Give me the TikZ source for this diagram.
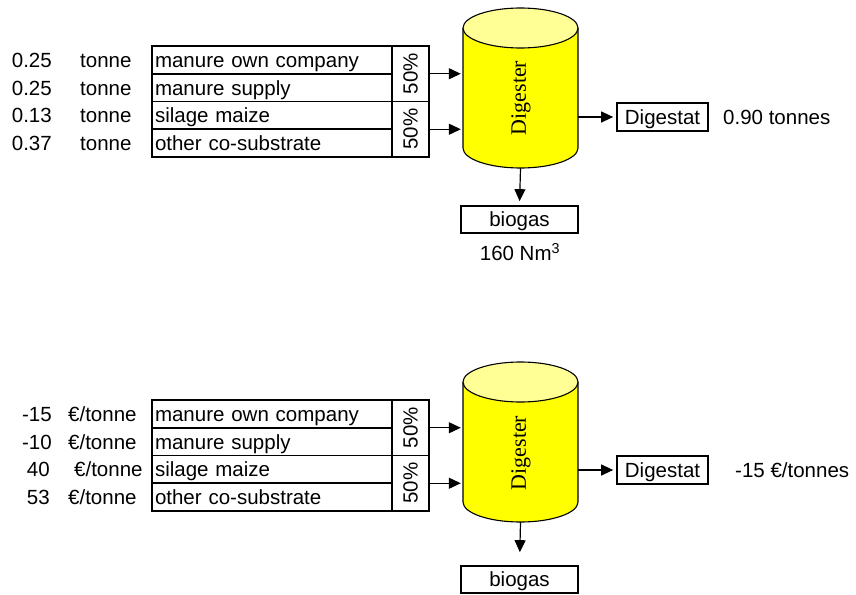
\documentclass[tikz,border=0pt]{standalone}
\usepackage{fontspec}
\usepackage{graphicx}
\setmainfont{Liberation Sans}
\newfontfamily\digfont{Liberation Serif}
\usetikzlibrary{arrows.meta}
\definecolor{tankbody}{RGB}{255,255,0}
\definecolor{tanktop}{RGB}{255,255,150}

\begin{document}
\begin{tikzpicture}[x=1pt,y=-1pt,
  every node/.style={font=\fontsize{20.5}{24}\selectfont, inner sep=0pt},
  frame/.style={draw, line width=1.7pt},
  cell/.style={frame, text width=234pt, inner xsep=3pt, align=left,
               minimum height=27.75pt, text height=14.8pt, text depth=0pt},
  pct/.style={frame, minimum width=37pt, minimum height=55.5pt},
  outbox/.style={frame, minimum height=28pt, text height=14.8pt, text depth=0pt},
  tank/.style={minimum width=115pt, minimum height=160pt},
  tankline/.style={line width=1.1pt},
  tanklabel/.style={font=\digfont\fontsize{22}{26}\selectfont},
  arr/.style={line width=1.2pt, -{Triangle[length=12pt,width=11pt]}},
]
\useasboundingbox (0,0) rectangle (856,594);

% ---------- quantities ----------
\begin{scope}[name prefix=q-]
  % input amounts
  \node[anchor=base east] (n1) at (52,67.3) {0.25};
  \node[anchor=base east] (n2) at (52,95.0) {0.25};
  \node[anchor=base east] (n3) at (52,122.8) {0.13};
  \node[anchor=base east] (n4) at (52,150.5) {0.37};
  \node[anchor=base west] (u1) at (80,67.3) {tonne};
  \node[anchor=base west] (u2) at (80,95.0) {tonne};
  \node[anchor=base west] (u3) at (80,122.8) {tonne};
  \node[anchor=base west] (u4) at (80,150.5) {tonne};
  % substrate table
  \node[cell] (c1) at (272,59.9) {manure own company};
  \node[cell] (c2) at (272,87.6) {manure supply};
  \node[cell] (c3) at (272,115.4) {silage maize};
  \node[cell] (c4) at (272,143.1) {other co-substrate};
  \node[pct] (p1) at (410.5,73.75) {\rotatebox{90}{50\%}};
  \node[pct] (p2) at (410.5,129.25) {\rotatebox{90}{50\%}};
  % digester tank
  \node[tank] (dig) at (520.5,88) {};
  \fill[tankbody] (463,28) rectangle (578,148);
  \fill[tankbody] (520.5,148) ellipse[x radius=57.5, y radius=20];
  \draw[tankline] (463,28) -- (463,148)
     arc[start angle=180, end angle=0, x radius=57.5, y radius=20] -- (578,28);
  \filldraw[tankline, fill=tanktop] (520.5,28) ellipse[x radius=57.5, y radius=20];
  \node[tanklabel] (dlab) at (521,98) {\rotatebox{90}{Digester}};
  % products
  \node[outbox, minimum width=91pt] (dg) at (662.5,117) {Digestat};
  \node[anchor=base west] (dgv) at (723,124.4) {0.90 tonnes};
  \node[outbox, minimum width=117pt, minimum height=27pt] (bg) at (519.5,219.5) {biogas};
  \node (bgv) at (520,252) {160 Nm\textsuperscript{3}};
  % flows
  \draw[arr, shorten >=2pt] (p1.east) -- (p1.east -| dig.west);
  \draw[arr, shorten >=2pt] (p2.east) -- (p2.east -| dig.west);
  \draw[arr, shorten >=3pt] (dig.east |- dg.west) -- (dg.west);
  \draw[arr, shorten >=4pt] (dig.south) -- (bg.north);
\end{scope}

% ---------- costs ----------
\begin{scope}[shift={(0,354)}, name prefix=k-]
  % input prices
  \node[anchor=base east] (n1) at (52,67.3) {-15};
  \node[anchor=base east] (n2) at (52,95.0) {-10};
  \node[anchor=base east] (n3) at (50,122.8) {40};
  \node[anchor=base east] (n4) at (50,150.5) {53};
  \node[anchor=base west] (u1) at (68,67.3) {€/tonne};
  \node[anchor=base west] (u2) at (68,95.0) {€/tonne};
  \node[anchor=base west] (u3) at (74,122.8) {€/tonne};
  \node[anchor=base west] (u4) at (68,150.5) {€/tonne};
  % substrate table
  \node[cell] (c1) at (272,59.9) {manure own company};
  \node[cell] (c2) at (272,87.6) {manure supply};
  \node[cell] (c3) at (272,115.4) {silage maize};
  \node[cell] (c4) at (272,143.1) {other co-substrate};
  \node[pct] (p1) at (410.5,73.75) {\rotatebox{90}{50\%}};
  \node[pct] (p2) at (410.5,129.25) {\rotatebox{90}{50\%}};
  % digester tank
  \node[tank] (dig) at (520.5,88) {};
  \fill[tankbody] (463,28) rectangle (578,148);
  \fill[tankbody] (520.5,148) ellipse[x radius=57.5, y radius=20];
  \draw[tankline] (463,28) -- (463,148)
     arc[start angle=180, end angle=0, x radius=57.5, y radius=20] -- (578,28);
  \filldraw[tankline, fill=tanktop] (520.5,28) ellipse[x radius=57.5, y radius=20];
  \node[tanklabel] (dlab) at (521,99) {\rotatebox{90}{Digester}};
  % products
  \node[outbox, minimum width=91pt] (dg) at (662.5,116) {Digestat};
  \node[anchor=base west] (dgv) at (735,123.4) {-15 €/tonnes};
  \node[outbox, minimum width=117pt, minimum height=27pt] (bg) at (519.5,225.5) {biogas};
  % flows
  \draw[arr, shorten >=2pt] (p1.east) -- (p1.east -| dig.west);
  \draw[arr, shorten >=2pt] (p2.east) -- (p2.east -| dig.west);
  \draw[arr, shorten >=3pt] (dig.east |- dg.west) -- (dg.west);
  \draw[arr, shorten >=13pt] (dig.south) -- (bg.north);
\end{scope}
\end{tikzpicture}
\end{document}
